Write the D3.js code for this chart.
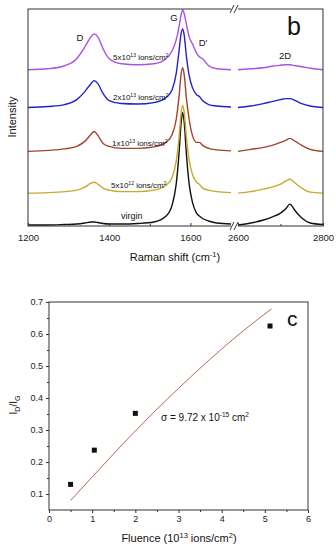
<!DOCTYPE html>
<html>
<head>
<meta charset="utf-8">
<script src="https://cdn.jsdelivr.net/npm/d3@7"></script>
<style>
  body { margin: 0; background: #fff; }
  svg { display: block; font-family: "Liberation Sans", Arial, sans-serif; }
</style>
</head>
<body>
<svg id="chart" width="336" height="550"></svg>
<script>
// ---- panel b data: Raman spectra (intensity above each baseline, arb. units) ----
const shiftLow = [1200, 1250, 1290, 1320, 1340, 1355, 1363, 1372, 1385, 1400, 1430, 1470, 1510, 1540, 1555,
  1565, 1572, 1577, 1581, 1585, 1590, 1597, 1605, 1615, 1622, 1630, 1645, 1665, 1700];
const shiftHigh = [2600, 2630, 2660, 2680, 2700, 2712, 2722, 2735, 2750, 2770, 2800];

const virginLow = [0, 0, 0.5, 1, 2, 3, 3, 2.5, 1.5, 1, 1, 1.5, 3, 9, 20, 41, 72, 102, 113, 102, 72, 41, 23, 12, 9, 6.5, 4, 2, 1];
const virginHigh = [0, 2, 5, 8, 12, 16, 21, 14, 7, 2, 0.5];
const f5e12Low = [0, 0.5, 1.5, 3, 6, 10, 11, 9, 5, 3, 1.5, 1.5, 3, 8, 16, 32, 56, 80, 88, 80, 57, 33, 19, 11, 9, 5, 3, 1.5, 0.5];
const f5e12High = [0, 1.5, 4, 6, 9, 12, 14, 10, 5, 1, 0];
const f1e13Low = [0, 1, 2.5, 5, 10, 17, 20, 16, 8, 5, 3, 3, 4.5, 9, 17, 32, 55, 77, 84, 76, 54, 32, 16, 9, 9, 6, 3, 1.5, 0.5];
const f1e13High = [0, 2, 4, 6, 9, 11, 13, 10, 6, 2, 0];
const f2e13Low = [0, 1, 3, 8, 16, 24, 27, 24, 14, 7, 4, 3.5, 5, 10, 18, 34, 57, 74, 79, 72, 52, 32, 20, 13, 11, 7, 3, 1.5, 0.5];
const f2e13High = [0, 1.5, 4, 6, 8, 9, 9, 7, 4, 1.5, 0];
const f5e13Low = [0, 1, 4, 11, 23, 33, 36, 33, 21, 11, 6, 5, 6, 11, 19, 30, 43, 55, 60, 56, 46, 33, 26, 17, 13, 11, 4, 1, 0];
const f5e13High = [0, 1, 2, 3.5, 4.5, 5, 5, 4, 3, 1.5, 0];

const spectrumLabels = ["virgin", "5x10|12", "1x10|13", "2x10|13", "5x10|13"];
const spectrumOffsets = [0, 32, 74, 118, 156];
const spectrumColors = ["#111111", "#c9a92c", "#a2442c", "#2222cc", "#a653e6"];

// ---- panel c data ----
const fluence = [0.5, 1.05, 2.0, 5.12];
const ratio = [0.13, 0.237, 0.352, 0.625];
const fitFluence = [0.5, 1.0, 1.5, 2.0, 2.5, 3.0, 3.5, 4.0, 4.5, 5.15];
const fitRatio = [0.08, 0.153, 0.226, 0.297, 0.365, 0.43, 0.493, 0.553, 0.61, 0.678];

const svg = d3.select("#chart");

// ================= panel b =================
const pb = { left: 28, right: 323, top: 9, bottom: 226 };
const xLow = d3.scaleLinear().domain([1200, 1700]).range([pb.left, 231]);
const xHigh = d3.scaleLinear().domain([2600, 2800]).range([238, pb.right]);
const yS = d3.scaleLinear().domain([0, 217]).range([225, pb.top]);

svg.append("clipPath").attr("id", "clipb")
  .append("rect")
  .attr("x", pb.left).attr("y", pb.top)
  .attr("width", pb.right - pb.left).attr("height", pb.bottom - pb.top);

const spectra = [
  [virginLow, virginHigh], [f5e12Low, f5e12High], [f1e13Low, f1e13High],
  [f2e13Low, f2e13High], [f5e13Low, f5e13High]
];

const gb = svg.append("g").attr("clip-path", "url(#clipb)");
spectra.forEach((s, i) => {
  const off = spectrumOffsets[i];
  const lineLow = d3.line()
    .x((d, j) => xLow(shiftLow[j]))
    .y(d => yS(d + off))
    .curve(d3.curveMonotoneX);
  const lineHigh = d3.line()
    .x((d, j) => xHigh(shiftHigh[j]))
    .y(d => yS(d + off))
    .curve(d3.curveMonotoneX);
  gb.append("path").attr("d", lineLow(s[0]))
    .attr("fill", "none").attr("stroke", spectrumColors[i]).attr("stroke-width", 1.4);
  gb.append("path").attr("d", lineHigh(s[1]))
    .attr("fill", "none").attr("stroke", spectrumColors[i]).attr("stroke-width", 1.4);
});

// frame
svg.append("rect")
  .attr("x", pb.left).attr("y", pb.top)
  .attr("width", pb.right - pb.left).attr("height", pb.bottom - pb.top)
  .attr("fill", "none").attr("stroke", "#333").attr("stroke-width", 1);

// x axes (ticks inward)
const axLow = d3.axisBottom(xLow).tickValues([1200, 1400, 1600]).tickSize(-3).tickPadding(8).tickFormat(d3.format("d"));
const axLowMinor = d3.axisBottom(xLow).tickValues([1300, 1500]).tickSize(-2).tickFormat("");
const axHigh = d3.axisBottom(xHigh).tickValues([2600, 2800]).tickSize(-3).tickPadding(8).tickFormat(d3.format("d"));
const axHighMinor = d3.axisBottom(xHigh).tickValues([2700]).tickSize(-2).tickFormat("");
[axLow, axLowMinor, axHigh, axHighMinor].forEach(a => {
  const g = svg.append("g").attr("transform", `translate(0,${pb.bottom})`).call(a);
  g.select(".domain").remove();
  g.selectAll("line").attr("stroke", "#333");
  g.selectAll("text").attr("font-size", 9.5).attr("fill", "#222")
    .attr("font-family", "Liberation Sans, Arial, sans-serif");
});

// axis break marks
[pb.top, pb.bottom].forEach(yy => {
  svg.append("rect").attr("x", 231).attr("y", yy - 2).attr("width", 7).attr("height", 4).attr("fill", "#fff");
  [232, 236].forEach(xx => {
    svg.append("line")
      .attr("x1", xx - 2).attr("y1", yy + 4).attr("x2", xx + 2).attr("y2", yy - 4)
      .attr("stroke", "#333").attr("stroke-width", 1);
  });
});

// axis titles
const rt = svg.append("text").attr("x", 175).attr("y", 261)
  .attr("text-anchor", "middle").attr("font-size", 11).attr("fill", "#111");
rt.append("tspan").text("Raman shift (cm");
rt.append("tspan").attr("dy", -4).attr("font-size", 7.5).text("-1");
rt.append("tspan").attr("dy", 4).text(")");

svg.append("text")
  .attr("transform", "translate(16,117) rotate(-90)")
  .attr("text-anchor", "middle").attr("font-size", 11).attr("fill", "#111")
  .text("Intensity");

// spectrum labels
const labelPos = [[121, 219], [111, 188], [112, 146], [113, 100], [113, 60]];
spectrumLabels.forEach((lab, i) => {
  const t = svg.append("text").attr("x", labelPos[i][0]).attr("y", labelPos[i][1])
    .attr("fill", "#111");
  if (lab === "virgin") {
    t.attr("font-size", 9).text(lab);
  } else {
    const [base, exp] = lab.split("|");
    t.attr("font-size", 8);
    t.append("tspan").text(base);
    t.append("tspan").attr("dy", -3).attr("font-size", 5).text(exp);
    t.append("tspan").attr("dy", 3).text(" ions/cm");
    t.append("tspan").attr("dy", -3).attr("font-size", 5).text("2");
  }
});

// peak labels
[["D", 80, 41], ["G", 174, 21], ["D'", 203, 46], ["2D", 285, 59]].forEach(([t, x, y]) => {
  svg.append("text").attr("x", x).attr("y", y).attr("text-anchor", "middle")
    .attr("font-size", 9.5).attr("fill", "#111").text(t);
});
svg.append("text").attr("x", 287).attr("y", 35).attr("font-size", 25).attr("fill", "#111").text("b");

// ================= panel c =================
const pc = { left: 49, right: 308, top: 302, bottom: 510 };
const xF = d3.scaleLinear().domain([0, 6]).range([pc.left, pc.right]);
const yR = d3.scaleLinear().domain([0.05, 0.7]).range([pc.bottom, pc.top]);

svg.append("rect")
  .attr("x", pc.left).attr("y", pc.top)
  .attr("width", pc.right - pc.left).attr("height", pc.bottom - pc.top)
  .attr("fill", "none").attr("stroke", "#333").attr("stroke-width", 1);

const yMajor = d3.axisLeft(yR).tickValues([0.1, 0.2, 0.3, 0.4, 0.5, 0.6, 0.7]).tickSize(3).tickPadding(3).tickFormat(d3.format(".1f"));
const yMinor = d3.axisLeft(yR).tickValues([0.15, 0.25, 0.35, 0.45, 0.55, 0.65]).tickSize(2).tickFormat("");
[yMajor, yMinor].forEach(a => {
  const g = svg.append("g").attr("transform", `translate(${pc.left},0)`).call(a);
  g.select(".domain").remove();
  g.selectAll("line").attr("stroke", "#333");
  g.selectAll("text").attr("font-size", 9).attr("fill", "#222")
    .attr("font-family", "Liberation Sans, Arial, sans-serif");
});
const xMajor = d3.axisBottom(xF).tickValues([0, 1, 2, 3, 4, 5, 6]).tickSize(3).tickPadding(3).tickFormat(d3.format("d"));
const xMinor = d3.axisBottom(xF).tickValues([0.5, 1.5, 2.5, 3.5, 4.5, 5.5]).tickSize(2).tickFormat("");
[xMajor, xMinor].forEach(a => {
  const g = svg.append("g").attr("transform", `translate(0,${pc.bottom})`).call(a);
  g.select(".domain").remove();
  g.selectAll("line").attr("stroke", "#333");
  g.selectAll("text").attr("font-size", 9).attr("fill", "#222")
    .attr("font-family", "Liberation Sans, Arial, sans-serif");
});

// fit curve
const fitLine = d3.line()
  .x((d, i) => xF(fitFluence[i]))
  .y(d => yR(d))
  .curve(d3.curveMonotoneX);
svg.append("path").attr("d", fitLine(fitRatio))
  .attr("fill", "none").attr("stroke", "#b5694d").attr("stroke-width", 1);

// data points
svg.selectAll(".pt").data(ratio).join("rect")
  .attr("class", "pt")
  .attr("x", (d, i) => xF(fluence[i]) - 2.5)
  .attr("y", d => yR(d) - 2.5)
  .attr("width", 5).attr("height", 5)
  .attr("fill", "#111");

// sigma annotation
const st = svg.append("text").attr("x", 161).attr("y", 421).attr("font-size", 10).attr("fill", "#111");
st.append("tspan").text("σ = 9.72 x 10");
st.append("tspan").attr("dy", -4).attr("font-size", 6.5).text("-15");
st.append("tspan").attr("dy", 4).text(" cm");
st.append("tspan").attr("dy", -4).attr("font-size", 6.5).text("2");

svg.append("text").attr("x", 287).attr("y", 326).attr("font-size", 21).attr("fill", "#111").text("c");

// axis titles
const ft = svg.append("text").attr("x", 179).attr("y", 542)
  .attr("text-anchor", "middle").attr("font-size", 11).attr("fill", "#111");
ft.append("tspan").text("Fluence (10");
ft.append("tspan").attr("dy", -4).attr("font-size", 7.5).text("13");
ft.append("tspan").attr("dy", 4).text(" ions/cm");
ft.append("tspan").attr("dy", -4).attr("font-size", 7.5).text("2");
ft.append("tspan").attr("dy", 4).text(")");

const yt = svg.append("text")
  .attr("transform", "translate(17,405) rotate(-90)")
  .attr("text-anchor", "middle").attr("font-size", 10).attr("fill", "#111");
yt.append("tspan").text("I");
yt.append("tspan").attr("dy", 2.5).attr("font-size", 7).text("D");
yt.append("tspan").attr("dy", -2.5).text("/I");
yt.append("tspan").attr("dy", 2.5).attr("font-size", 7).text("G");
</script>
</body>
</html>
